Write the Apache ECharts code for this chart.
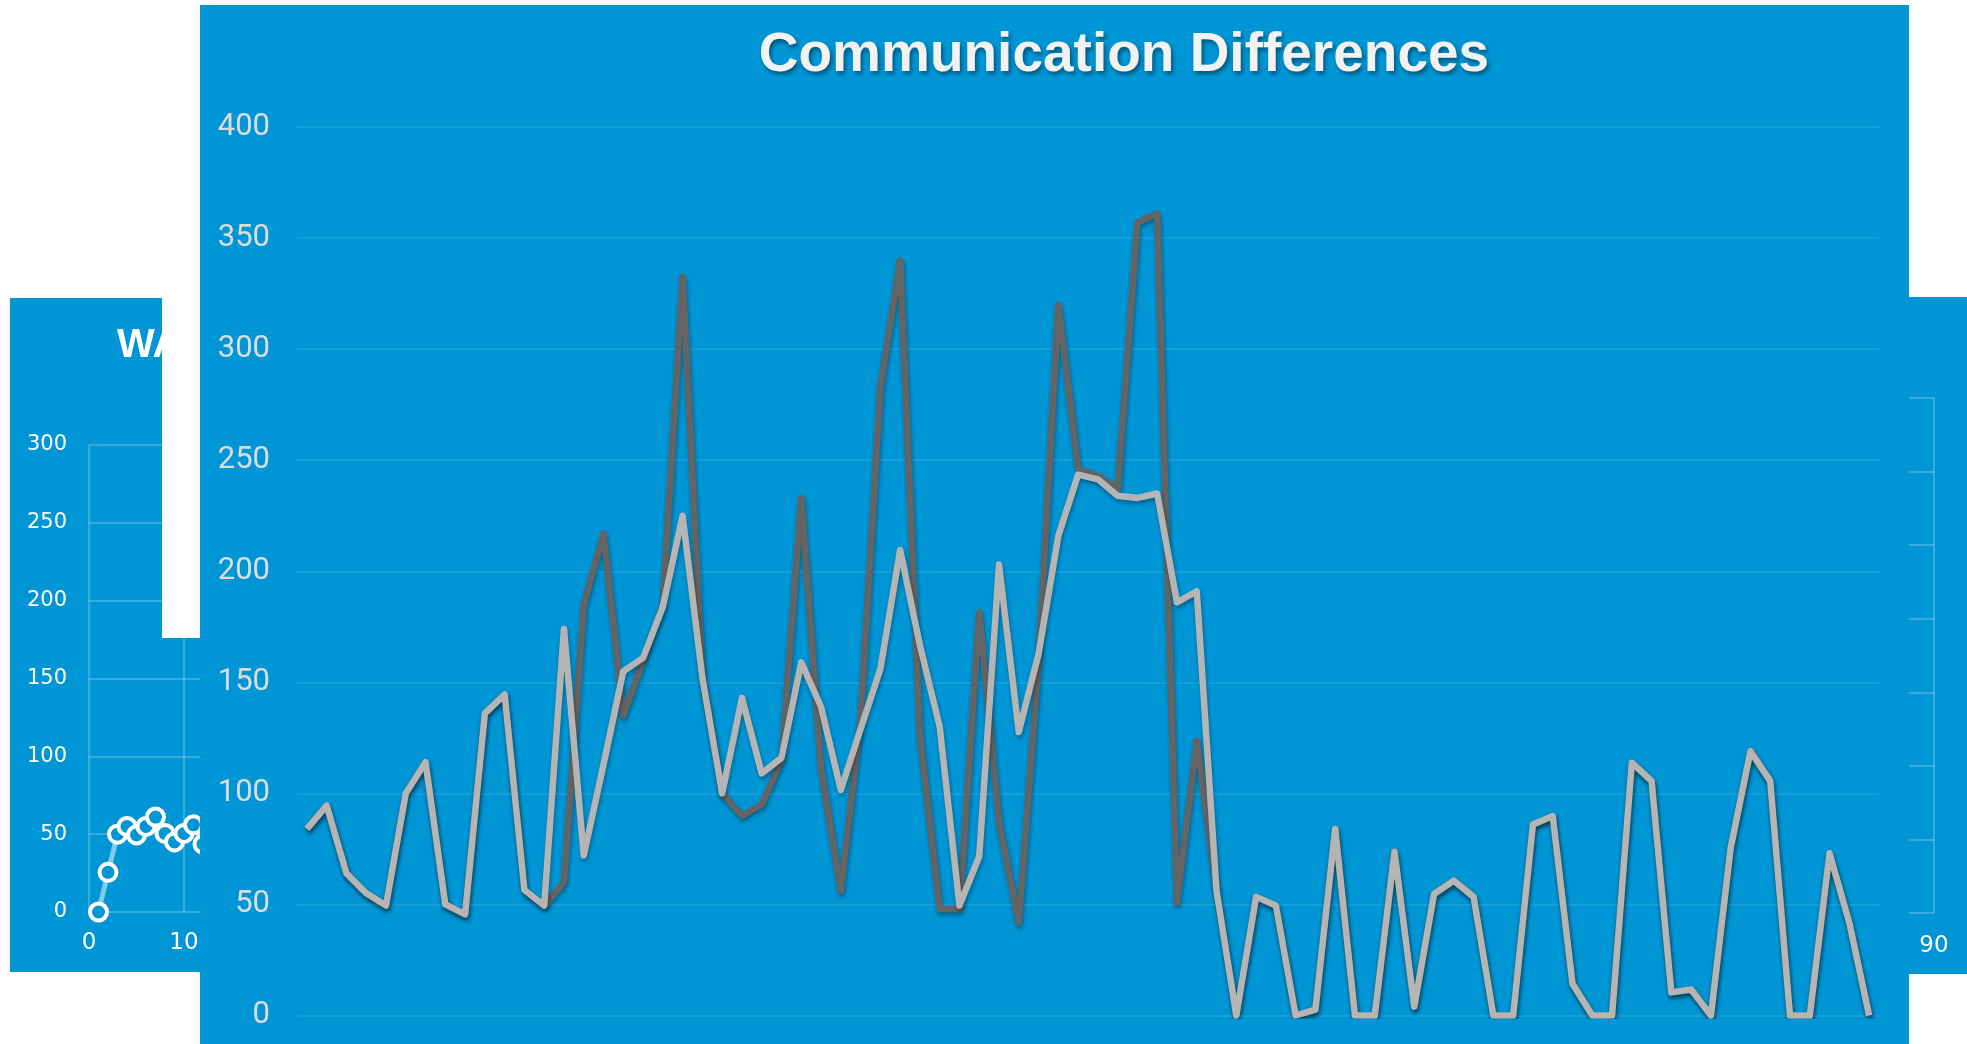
<!DOCTYPE html>
<html>
<head>
<meta charset="utf-8">
<script src="https://cdn.jsdelivr.net/npm/echarts@6/dist/echarts.min.js"></script>
<style>
  html, body { margin: 0; padding: 0; width: 1967px; height: 1044px; overflow: hidden; background: #ffffff; }
  .card { position: absolute; }
  #left { left: 10px; top: 298px; width: 1000px; height: 674px; z-index: 1; }
  #right { left: 1000px; top: 297px; width: 967px; height: 677px; z-index: 1; }
  #main { left: 200px; top: 5px; width: 1709px; height: 1039px; z-index: 5; }
</style>
</head>
<body>
<div id="left" class="card"></div>
<div id="right" class="card"></div>
<div id="main" class="card"></div>
<script>
// ---------- data ----------
const mainTitle = "Communication Differences";
const categories = ["1","2","3","4","5","6","7","8","9","10","11","12","13","14","15","16","17","18","19","20",
  "21","22","23","24","25","26","27","28","29","30","31","32","33","34","35","36","37","38","39","40",
  "41","42","43","44","45","46","47","48","49","50","51","52","53","54","55","56","57","58","59","60",
  "61","62","63","64","65","66","67","68","69","70","71","72","73","74","75","76","77","78","79","80"];
const darkSeries = [84,94.5,64,55,49.5,100,114,50,45.5,136,144.5,56.5,49.5,60,185,217,135,160,185,332.5,
  152,100,90,95,115,233,111,56,134,282.5,340,126,48,48,181.5,87,41.7,160,320,246,
  243,237,357,361,50.8,123.7,56,0,53.4,49.5,0,2.6,84,0,0,73.7,4,54.7,60.7,53.4,
  0,0,86,89.8,14.3,0,0,113.8,105.5,10.4,11.7,0,75.5,119,105.5,0,0,73,41.7,0];
const lightSeries = [84,94.5,64,55,49.5,100,114,50,45.5,136,144.5,56.5,49.5,174,72,113,155,161,184,225,
  152,100,143,109,116,159,139,101.5,129,156,209.6,166.7,130,49.5,71.6,203,127.6,162.8,216,243.5,
  241.4,234,233,235,186,191,56,0,53.4,49.5,0,2.6,84,0,0,73.7,4,54.7,60.7,53.4,
  0,0,86,89.8,14.3,0,0,113.8,105.5,10.4,11.7,0,75.5,119,105.5,0,0,73,41.7,0];
const mainYTicks = { min: 0, max: 400, step: 50 };

const leftTitle = "WA";
const leftX = [1,2,3,4,5,6,7,8,9,10,11,12];
const leftY = [0,25.5,50,55,49.5,55,61,50.5,45,50.5,56,43.6];
const leftYTicks = { min: 0, max: 300, step: 50 };
const sideXTicks = { min: 0, max: 90, step: 10 };
const rightYTicks = { min: 0, max: 350, step: 50 };
const rightShownXLabel = 90;

// ---------- styles ----------
const BLUE = '#0096d6';
const sideGrid = 'rgba(255,255,255,0.28)';

// ---------- left card ----------
const left = echarts.init(document.getElementById('left'), null, { renderer: 'canvas' });
left.setOption({
  backgroundColor: BLUE,
  animation: false,
  title: {
    text: leftTitle, left: 102, top: 23,
    textStyle: { color: '#ffffff', fontSize: 40, fontWeight: 'bold', fontFamily: 'Liberation Sans' }
  },
  grid: { left: 79, right: 66, top: 147, bottom: 60 },
  xAxis: {
    type: 'value', min: sideXTicks.min, max: sideXTicks.max, interval: sideXTicks.step,
    axisLine: { show: false }, axisTick: { show: false },
    axisLabel: { color: '#ffffff', fontSize: 23, fontFamily: 'DejaVu Sans', margin: 20 },
    splitLine: { show: true, lineStyle: { color: sideGrid, width: 1.5 } }
  },
  yAxis: {
    type: 'value', min: leftYTicks.min, max: leftYTicks.max, interval: leftYTicks.step,
    axisLine: { show: false }, axisTick: { show: false },
    axisLabel: { color: '#ffffff', fontSize: 21, fontFamily: 'DejaVu Sans', margin: 22 },
    splitLine: { show: true, lineStyle: { color: sideGrid, width: 1.5 } }
  },
  series: [{
    type: 'line',
    data: leftX.map((x, i) => [x, leftY[i]]),
    symbol: 'circle', symbolSize: 17, showSymbol: true,
    lineStyle: { color: 'rgba(255,255,255,0.5)', width: 5 },
    itemStyle: { color: BLUE, borderColor: '#ffffff', borderWidth: 4 },
    z: 3
  }],
  graphic: [{
    type: 'rect', z: 100, silent: true,
    shape: { x: 152, y: 0, width: 60, height: 340 },
    style: { fill: '#ffffff' }
  }]
});

// ---------- right card ----------
const right = echarts.init(document.getElementById('right'), null, { renderer: 'canvas' });
right.setOption({
  backgroundColor: BLUE,
  animation: false,
  grid: { left: 79, right: 33, top: 101, bottom: 61 },
  xAxis: {
    type: 'value', min: sideXTicks.min, max: sideXTicks.max, interval: sideXTicks.step,
    axisLine: { show: false }, axisTick: { show: false },
    axisLabel: {
      color: '#ffffff', fontSize: 23, fontFamily: 'DejaVu Sans', margin: 22,
      formatter: v => (v === rightShownXLabel ? String(v) : '')
    },
    splitLine: { show: true, lineStyle: { color: sideGrid, width: 1.5 } }
  },
  yAxis: {
    type: 'value', min: rightYTicks.min, max: rightYTicks.max, interval: rightYTicks.step,
    axisLine: { show: false }, axisTick: { show: false },
    axisLabel: { show: false },
    splitLine: { show: true, lineStyle: { color: sideGrid, width: 1.5 } }
  },
  series: [{ type: 'line', data: [] }]
});

// ---------- main card ----------
const main = echarts.init(document.getElementById('main'), null, { renderer: 'canvas' });
const lineShadow = { shadowColor: 'rgba(0,0,0,0.35)', shadowBlur: 4, shadowOffsetX: 1, shadowOffsetY: 3 };
main.setOption({
  backgroundColor: BLUE,
  animation: false,
  title: {
    text: mainTitle, left: 919, top: 18, textAlign: 'center',
    textStyle: {
      color: '#f2f2f2', fontSize: 55, fontWeight: 'bold', fontFamily: 'Liberation Sans',
      textShadowColor: 'rgba(0,0,0,0.45)', textShadowBlur: 4, textShadowOffsetX: 2, textShadowOffsetY: 3
    }
  },
  grid: { left: 97, right: 30, top: 122, bottom: 28.5 },
  xAxis: {
    type: 'category', data: categories, boundaryGap: true,
    axisLine: { show: false }, axisTick: { show: false }, axisLabel: { show: false },
    splitLine: { show: false }
  },
  yAxis: {
    type: 'value', min: mainYTicks.min, max: mainYTicks.max, interval: mainYTicks.step,
    axisLine: { show: false }, axisTick: { show: false },
    axisLabel: { color: '#dcdcdc', fontSize: 31, fontFamily: 'Roboto', fontWeight: 'normal', margin: 27 },
    splitLine: { show: true, lineStyle: { color: 'rgba(255,255,255,0.12)', width: 1.5 } }
  },
  series: [
    {
      name: 'A', type: 'line', data: darkSeries, showSymbol: false, symbol: 'none', clip: true,
      lineStyle: Object.assign({ color: '#646464', width: 6.5, join: 'round' }, lineShadow), z: 2
    },
    {
      name: 'B', type: 'line', data: lightSeries, showSymbol: false, symbol: 'none', clip: true,
      lineStyle: Object.assign({ color: '#b5b5b5', width: 6.5, join: 'round' }, lineShadow), z: 3
    }
  ]
});
</script>
</body>
</html>
